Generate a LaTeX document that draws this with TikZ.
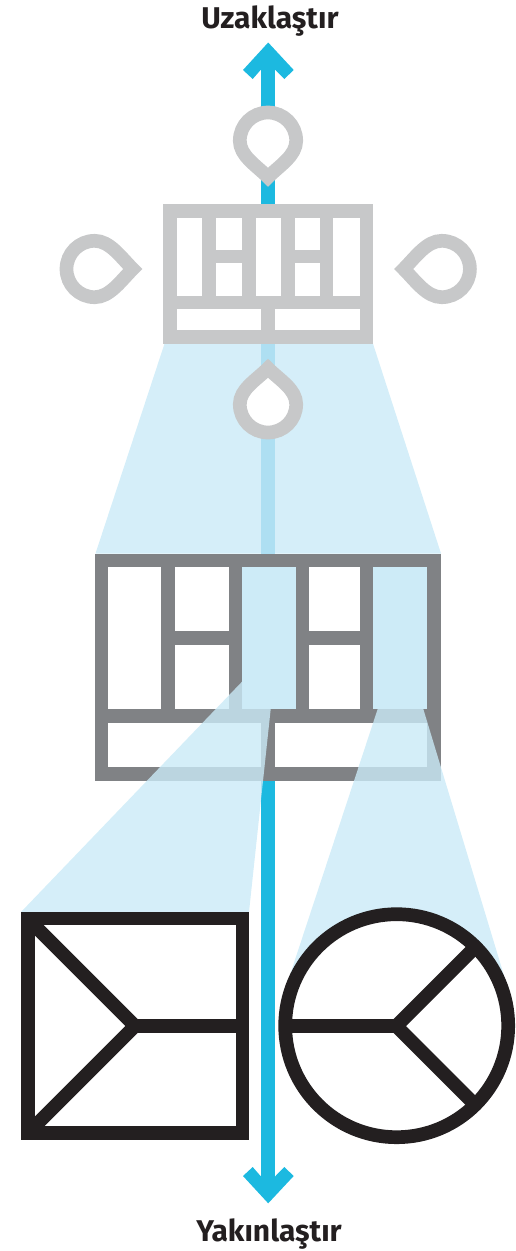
\documentclass[tikz,border=0pt]{standalone}
\usepackage{fontspec}
\setmainfont{Fira Sans}[BoldFont={Fira Sans Bold}]
\definecolor{skyb}{HTML}{1CB9E0}
\definecolor{pale}{HTML}{CAEAF7}
\definecolor{cellc}{HTML}{CDEBF7}
\definecolor{lgray}{HTML}{C7C8C9}
\definecolor{mgray}{HTML}{808285}
\definecolor{ink}{HTML}{231F20}
\definecolor{fadedaxis}{HTML}{AEDFF2}
\tikzset{
  cone/.style={fill=pale,draw=none,fill opacity=.8},
  shaft/.style={fill=skyb,draw=none},
  cell/.style={fill=white,draw=none},
  hotcell/.style={fill=cellc,draw=none},
  outline/.style={draw=ink,fill=white,line width=13.7pt,miter limit=10},
  spoke/.style={draw=ink,line width=13.7pt,miter limit=10},
  dropmark/.style={draw=lgray,fill=white,line width=13.7pt,miter limit=10},
  zoomlabel/.style={anchor=base,text=ink,font=\bfseries\fontsize{30}{30}\selectfont,inner sep=0pt},
}
\newcommand{\dropat}[4]{% x,y,rotation,tip distance
  \draw[dropmark,shift={(#1,#2)},rotate=#3]
    (0,#4) .. controls (12,#4-12) and (28.2,15) .. (28.2,0)
    .. controls (28.2,-15.6) and (15.6,-28.2) .. (0,-28.2)
    .. controls (-15.6,-28.2) and (-28.2,-15.6) .. (-28.2,0)
    .. controls (-28.2,15) and (-12,#4-12) .. cycle;}
\begin{document}
\begin{tikzpicture}[x=1pt,y=-1pt]
\useasboundingbox (0,0) rectangle (515,1251);
% blue axis with two arrow heads
\fill[shaft] (261,60) rectangle (275,1180);
\fill[shaft] (268.2,42.5) -- (293.7,70) -- (284.3,79) -- (275,69.5) -- (261,69.5) -- (252.7,79) -- (243,70) -- cycle;
\fill[shaft] (268.2,1203.3) -- (293.7,1176) -- (284.3,1167) -- (275,1176.5) -- (261,1176.5) -- (252.7,1167) -- (243,1176) -- cycle;
% upper view cone
\fill[cone] (164.5,343.7) -- (373,343.7) -- (441,553.5) -- (95.5,553.5) -- cycle;
\fill[fadedaxis] (261,343.7) rectangle (275,553.5);
% upper grid (light gray)
\fill[lgray] (163,204) rectangle (373,343.7);
\fill[cell] (176.7,217.7) rectangle (202.3,295.7);
\fill[cell] (216,217.7) rectangle (242.3,249.7);
\fill[cell] (216,263.3) rectangle (242.3,295.7);
\fill[cell] (255.7,217.7) rectangle (281.3,295.7);
\fill[cell] (295,217.7) rectangle (319.7,249.7);
\fill[cell] (295,263.3) rectangle (319.7,295.7);
\fill[cell] (333.3,217.7) rectangle (359.7,295.7);
\fill[cell] (176.7,309.3) rectangle (261,330);
\fill[cell] (275,309.3) rectangle (359.7,330);
% middle grid (mid gray)
\fill[mgray] (95,553.5) rectangle (441,780.5);
\fill[cell] (108.3,567) rectangle (161,709);
\fill[cell] (175,567) rectangle (228.7,631);
\fill[cell] (175,645) rectangle (228.7,709);
\fill[hotcell] (242,567) rectangle (296,709);
\fill[cell] (309,567) rectangle (360,631);
\fill[cell] (309,645) rectangle (360,709);
\fill[hotcell] (373,567) rectangle (427.3,709);
\fill[cell] (108.3,722.7) rectangle (261,767);
\fill[cell] (274.7,722.7) rectangle (427.3,767);
% lower view cones
\fill[cone] (242,681.7) -- (242,709) -- (270.7,709) -- (249,912) -- (21,912) -- cycle;
\fill[cone] (377.7,709) -- (423.3,709) -- (509,992) -- (286,987) -- cycle;
% detail icons
\draw[outline] (27.85,918.55) rectangle (242.45,1133.15);
\draw[spoke] (27.85,918.8) -- (135,1026) -- (27.85,1133.2);
\draw[spoke] (135,1026) -- (242.45,1026);
\draw[outline] (396.7,1025.7) circle (111.5);
\draw[spoke] (285,1026) -- (396.3,1026);
\draw[spoke] (475,947.3) -- (396.3,1026) -- (475,1104.7);
% drop markers
\dropat{268}{140.7}{0}{36.5}
\dropat{268}{404.3}{180}{36}
\dropat{94.7}{269}{90}{38}
\dropat{441.7}{269}{-90}{38}
% labels
\node[zoomlabel] (zoomout) at (270,28) {Uzaklaştır};
\node[zoomlabel] (zoomin) at (269,1241) {Yakınlaştır};
\end{tikzpicture}
\end{document}
